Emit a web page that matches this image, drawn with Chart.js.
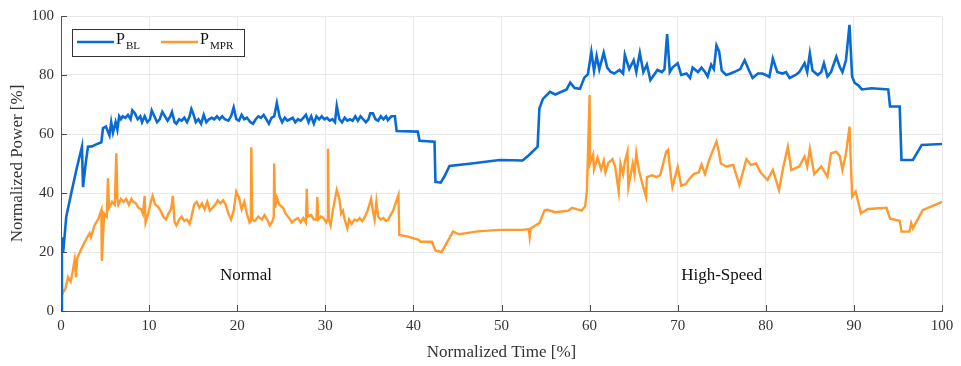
<!DOCTYPE html>
<html>
<head>
<meta charset="utf-8">
<script src="https://cdn.jsdelivr.net/npm/chart.js@4.4.1/dist/chart.umd.min.js"></script>
<style>
  html, body { margin: 0; padding: 0; background: #fff; }
  #wrap { width: 961px; height: 366px; }
</style>
</head>
<body>
<div id="wrap"><canvas id="powerChart" width="961" height="366"></canvas></div>
<script>
// P_BL (blue): [normalized time %, normalized power %]
const seriesBL = [
  [0, 0], [0.1, 25], [0.25, 20], [0.6, 32], [1.17, 40], [1.74, 47.8], [2.38, 55.7], [2.5, 42], [2.8, 50], [3.06, 55.7],
  [3.5, 55.8], [4, 56.5], [4.58, 57.2], [4.77, 62], [5.1, 62.5], [5.3, 61], [5.5, 59.5], [5.7, 64], [5.9, 60.5], [6.2, 64],
  [6.4, 61.5], [6.6, 66], [6.8, 65], [7.0, 66], [7.3, 65.5], [7.6, 66.5], [7.9, 65], [8.1, 68], [8.4, 67], [8.7, 65],
  [9.0, 66], [9.2, 64], [9.5, 66], [9.8, 64], [10.1, 65], [10.3, 68], [10.6, 66], [10.9, 64], [11.2, 65], [11.5, 67.5],
  [11.8, 66], [12.1, 64.5], [12.4, 66], [12.6, 67.5], [12.9, 64], [13.1, 63.5], [13.4, 65], [13.7, 64.5], [14.0, 65.5], [14.3, 64],
  [14.6, 66], [14.8, 68.5], [15.0, 67], [15.3, 64], [15.6, 65], [15.9, 63.5], [16.2, 66.5], [16.5, 64], [16.8, 65], [17.1, 65.5],
  [17.4, 65], [17.7, 66], [18.0, 65], [18.3, 66], [18.6, 65], [19.0, 64.5], [19.3, 66], [19.6, 69], [19.9, 65], [20.2, 64.5],
  [20.5, 66.5], [20.8, 65], [21.1, 65.5], [21.5, 64], [21.8, 63.5], [22.1, 65], [22.4, 66], [22.7, 65.5], [23.0, 66.5], [23.3, 65],
  [23.6, 63.5], [23.9, 65.5], [24.2, 66], [24.5, 70.5], [24.8, 66], [25.1, 64], [25.4, 65.5], [25.7, 64.5], [26.0, 65], [26.3, 65.5],
  [26.6, 64], [26.9, 65], [27.2, 64.5], [27.5, 65.5], [27.8, 66.5], [28.1, 64], [28.4, 66], [28.7, 63.5], [29.0, 66], [29.3, 65],
  [29.6, 66], [29.9, 65], [30.2, 65.5], [30.5, 64.5], [30.8, 65], [31.1, 64], [31.3, 69.5], [31.6, 65], [31.9, 64], [32.2, 65.5],
  [32.5, 64.5], [32.8, 65], [33.1, 64.5], [33.4, 66], [33.7, 64.5], [34.0, 66], [34.3, 65], [34.6, 64], [34.9, 65], [35.1, 67],
  [35.4, 67], [35.7, 65], [36.0, 64.5], [36.3, 66], [36.6, 65], [36.9, 66], [37.1, 64.7], [37.5, 66], [37.9, 66], [38.1, 61],
  [40.5, 60.8], [40.7, 57.7], [42.4, 57.4], [42.5, 43.8], [43.1, 43.5], [43.5, 45.5], [44.1, 49.2], [46.6, 50], [49.8, 51.2], [52.4, 51],
  [53.1, 52.8], [54.1, 55.7], [54.3, 68.6], [54.7, 71.9], [55.5, 74.3], [56.1, 73.4], [57.4, 75.1], [57.8, 77.4], [58.3, 75.6], [58.9, 75.3],
  [59.4, 79.1], [59.8, 80.2], [60.2, 87.9], [60.5, 81.4], [60.8, 86.5], [61.1, 81.9], [61.6, 87.6], [62.0, 82.5], [62.4, 81], [62.8, 80.5],
  [63.4, 81.7], [63.8, 80.5], [64.0, 86.8], [64.5, 82], [65.0, 85], [65.3, 81], [65.7, 87.5], [66.1, 81], [66.5, 83.5], [66.9, 78.3],
  [67.3, 80], [67.7, 81.7], [68.2, 81], [68.5, 82], [68.8, 93.9], [69.1, 81], [69.4, 82.5], [70.0, 84], [70.4, 80], [71.0, 80.5],
  [71.4, 79], [71.7, 82.5], [72.3, 81], [72.7, 82.5], [73.1, 81], [73.4, 79.5], [73.8, 83.5], [74.1, 82], [74.4, 90], [74.7, 88],
  [75.0, 81.5], [75.5, 80], [76.0, 80.5], [76.4, 81], [77.1, 82], [77.6, 85], [78.1, 81.5], [78.5, 79], [79.1, 80.5], [79.6, 80.5],
  [80.0, 80], [80.4, 79.3], [80.8, 85.6], [81.3, 81], [81.9, 80.5], [82.3, 81], [82.7, 79], [83.4, 80], [83.8, 81], [84.4, 84],
  [84.7, 81], [85.0, 87.3], [85.3, 81.5], [85.9, 80], [86.3, 81], [86.6, 84], [87.0, 79.5], [87.4, 81], [88.0, 86.2], [88.4, 82.7],
  [88.7, 81], [89.1, 85], [89.5, 97], [89.8, 79.4], [90.1, 77.3], [90.5, 76.5], [90.9, 75.1], [92, 75.5], [93.9, 75.1], [94.1, 69.3],
  [95.2, 69.3], [95.4, 51.2], [96.7, 51.2], [97.7, 56.3], [100, 56.6]
];

// P_MPR (orange)
const seriesMPR = [
  [0, 10.5], [0.2, 6], [0.5, 7.5], [0.8, 11.5], [1.1, 10], [1.3, 13], [1.55, 17.3], [1.7, 11.5], [1.85, 18], [2.3, 21],
  [2.8, 24], [3.25, 26.4], [3.4, 25], [3.8, 29], [4.2, 31], [4.58, 34.2], [4.63, 17], [4.9, 33], [5.2, 32], [5.33, 45],
  [5.45, 35], [5.8, 37], [6.1, 36], [6.28, 53.5], [6.4, 38], [6.5, 36], [6.8, 38], [7.1, 37], [7.4, 38], [7.7, 36],
  [8.0, 38], [8.2, 37], [8.5, 36.5], [8.8, 35], [9.1, 34.5], [9.3, 33], [9.5, 39], [9.6, 30], [9.9, 33], [10.2, 37],
  [10.4, 39], [10.7, 36], [11.0, 35.5], [11.3, 34], [11.6, 32], [11.9, 31], [12.2, 33], [12.5, 34.5], [12.7, 39], [12.9, 30],
  [13.1, 29], [13.4, 31], [13.7, 32], [14.0, 30.5], [14.3, 31], [14.6, 29.5], [14.9, 33], [15.1, 36], [15.4, 37], [15.7, 35],
  [16.0, 36.5], [16.3, 34.5], [16.6, 37], [16.9, 34], [17.2, 35], [17.5, 36], [17.8, 37.5], [18.1, 36.5], [18.4, 37.5], [18.7, 36],
  [19.0, 33], [19.3, 31], [19.6, 34], [19.9, 40.5], [20.2, 38.5], [20.5, 34.5], [20.8, 37], [21.1, 33], [21.4, 30], [21.55, 30.5],
  [21.6, 55.5], [21.7, 31], [22.0, 30.5], [22.4, 32], [22.8, 31], [23.1, 32.5], [23.4, 31], [23.7, 29], [24.0, 30.5], [24.15, 32],
  [24.2, 50], [24.3, 35], [24.5, 38.5], [24.8, 36], [25.2, 35], [25.5, 33], [25.9, 31.5], [26.2, 30], [26.6, 31], [26.9, 31.5],
  [27.2, 30], [27.5, 31.5], [27.8, 30], [27.9, 41.4], [28.0, 32], [28.4, 32.5], [28.7, 31], [29.0, 31], [29.1, 38.6], [29.2, 31],
  [29.5, 32], [29.8, 31.5], [30.1, 30], [30.25, 31], [30.3, 55], [30.4, 31], [30.6, 29], [30.8, 33], [31.1, 38], [31.3, 41],
  [31.6, 38], [31.8, 33], [32.0, 34], [32.2, 31], [32.5, 28], [32.7, 31], [33.0, 29.5], [33.3, 31], [33.6, 30.5], [33.9, 31.5],
  [34.2, 30.5], [34.5, 32], [34.8, 34], [35.0, 36], [35.2, 38], [35.4, 34], [35.6, 31], [35.8, 37], [36.0, 32], [36.3, 31],
  [36.6, 31.5], [36.9, 30.5], [37.1, 30.8], [37.7, 34], [38.3, 39.3], [38.4, 25.8], [39.4, 25.2], [40.6, 24.1], [40.8, 23.5], [42.1, 23.5],
  [42.5, 20.5], [43.2, 20], [44.5, 26.9], [45.2, 26], [47.3, 27], [49.8, 27.5], [52.4, 27.5], [53.1, 27.8], [53.2, 25.2], [53.3, 28],
  [54.3, 29.8], [54.9, 34.2], [55.2, 34.3], [56.1, 33.5], [57.6, 34], [58.0, 35], [59.1, 34], [59.5, 35.5], [59.7, 41], [60.0, 73.2],
  [60.05, 50], [60.4, 53], [60.5, 48], [60.9, 52], [61.3, 48], [61.6, 51], [61.8, 47], [62.1, 50.1], [62.6, 51.5], [62.9, 49],
  [63.3, 40.5], [63.5, 50], [63.8, 46.4], [64.0, 50.5], [64.3, 54], [64.4, 42], [64.9, 50], [65.1, 46.4], [65.3, 53.5], [65.6, 47.6],
  [66.0, 43], [66.4, 38.8], [66.5, 45.4], [67.1, 46], [67.6, 45.4], [68.0, 46], [68.7, 54], [68.9, 54.6], [69.2, 46.4], [69.4, 42],
  [70.0, 48.8], [70.4, 42.5], [70.9, 43], [71.3, 44.7], [71.8, 46.4], [72.4, 47], [72.7, 49.7], [73.1, 46.4], [73.4, 49.7], [73.8, 53],
  [74.4, 57.4], [74.6, 55], [74.9, 50], [75.5, 49], [76.3, 49.5], [77.0, 42.7], [77.8, 51.5], [78.3, 49.5], [78.9, 50], [79.4, 47],
  [80.2, 44.4], [80.8, 47.8], [81.5, 41], [82.0, 49], [82.5, 55.7], [82.9, 47.8], [83.8, 49], [84.4, 52.4], [84.7, 49], [85.0, 55],
  [85.5, 46.4], [86.3, 49], [87.0, 45.5], [87.4, 53.4], [88.0, 54], [88.4, 52.5], [88.7, 47.8], [89.1, 53.4], [89.5, 62.5], [89.8, 38.8],
  [90.2, 40.5], [90.8, 33.1], [91.6, 34.6], [93.7, 35], [94.1, 31.3], [95.2, 30.6], [95.4, 26.9], [96.3, 26.9], [96.5, 29.8], [96.7, 28],
  [97.8, 34.2], [100, 37]
];

const xTicks = [0, 10, 20, 30, 40, 50, 60, 70, 80, 90, 100];
const yTicks = [0, 20, 40, 60, 80, 100];
const modeLabels = ["Normal", "High-Speed"];
const modeX = [21, 75];
const modeY = [12, 12];

const FONT = "'Liberation Serif', 'Times New Roman', serif";
const BLUE = "#0a6ad4";
const ORANGE = "#ff9a2e";

function toPoints(pairs) {
  return pairs.map(p => ({ x: p[0], y: p[1] }));
}

// inner tick marks, mode labels and legend with subscripts
const extras = {
  id: "extras",
  afterDraw(chart) {
    const ctx = chart.ctx;
    const xs = chart.scales.x;
    const ys = chart.scales.y;
    const area = chart.chartArea;
    ctx.save();
    ctx.strokeStyle = "#4d4d4d";
    ctx.lineWidth = 1;
    ctx.beginPath();
    xTicks.forEach(v => {
      const px = Math.round(xs.getPixelForValue(v)) + 0.5;
      ctx.moveTo(px, area.bottom);
      ctx.lineTo(px, area.bottom - 6);
    });
    yTicks.forEach(v => {
      const py = Math.round(ys.getPixelForValue(v)) + 0.5;
      ctx.moveTo(area.left, py);
      ctx.lineTo(area.left + 6, py);
    });
    ctx.stroke();

    ctx.fillStyle = "#111";
    ctx.font = "17px " + FONT;
    ctx.textAlign = "center";
    ctx.textBaseline = "middle";
    modeLabels.forEach((t, i) => {
      ctx.fillText(t, xs.getPixelForValue(modeX[i]), ys.getPixelForValue(modeY[i]));
    });

    // legend box
    const lx = area.left + 11, ly = area.top + 13;
    ctx.fillStyle = "#fff";
    ctx.fillRect(lx, ly, 172, 27);
    ctx.strokeStyle = "#333";
    ctx.strokeRect(lx + 0.5, ly + 0.5, 172, 27);
    const items = [
      { color: BLUE, sub: "BL", x: lx + 5 },
      { color: ORANGE, sub: "MPR", x: lx + 89 }
    ];
    items.forEach(it => {
      ctx.strokeStyle = it.color;
      ctx.lineWidth = 2.5;
      ctx.beginPath();
      ctx.moveTo(it.x, ly + 13);
      ctx.lineTo(it.x + 37, ly + 13);
      ctx.stroke();
      ctx.fillStyle = "#111";
      ctx.textAlign = "left";
      ctx.font = "16px " + FONT;
      ctx.fillText("P", it.x + 39, ly + 11);
      ctx.font = "11px " + FONT;
      ctx.fillText(it.sub, it.x + 49, ly + 17);
    });
    ctx.restore();
  }
};

const ctx = document.getElementById("powerChart").getContext("2d");
new Chart(ctx, {
  type: "line",
  data: {
    datasets: [
      {
        label: "P_BL",
        data: toPoints(seriesBL),
        borderColor: BLUE,
        borderWidth: 2.6,
        pointRadius: 0,
        tension: 0,
        fill: false
      },
      {
        label: "P_MPR",
        data: toPoints(seriesMPR),
        borderColor: ORANGE,
        borderWidth: 2.4,
        pointRadius: 0,
        tension: 0,
        fill: false
      }
    ]
  },
  options: {
    responsive: false,
    animation: false,
    parsing: false,
    layout: { padding: { top: 16, right: 19, left: 0, bottom: 0 } },
    plugins: { legend: { display: false }, tooltip: { enabled: false } },
    scales: {
      x: {
        type: "linear",
        min: 0,
        max: 100,
        afterBuildTicks(scale) { scale.ticks = xTicks.map(v => ({ value: v })); },
        afterFit(scale) { scale.height = 55; },
        grid: { color: "#e8e8e8", drawTicks: false },
        border: { color: "#555", width: 1 },
        ticks: { padding: 6, color: "#333", font: { family: FONT, size: 15 } },
        title: {
          display: true,
          text: "Normalized Time [%]",
          color: "#333",
          padding: { top: 2, bottom: 3 },
          font: { family: FONT, size: 17 }
        }
      },
      y: {
        type: "linear",
        min: 0,
        max: 100,
        afterBuildTicks(scale) { scale.ticks = yTicks.map(v => ({ value: v })); },
        afterFit(scale) { scale.width = 61; },
        grid: { color: "#e8e8e8", drawTicks: false },
        border: { color: "#555", width: 1 },
        ticks: { padding: 7, color: "#333", font: { family: FONT, size: 15 } },
        title: {
          display: true,
          text: "Normalized Power [%]",
          color: "#333",
          padding: { top: 7, bottom: 2 },
          font: { family: FONT, size: 17 }
        }
      }
    }
  },
  plugins: [extras]
});
</script>
</body>
</html>
